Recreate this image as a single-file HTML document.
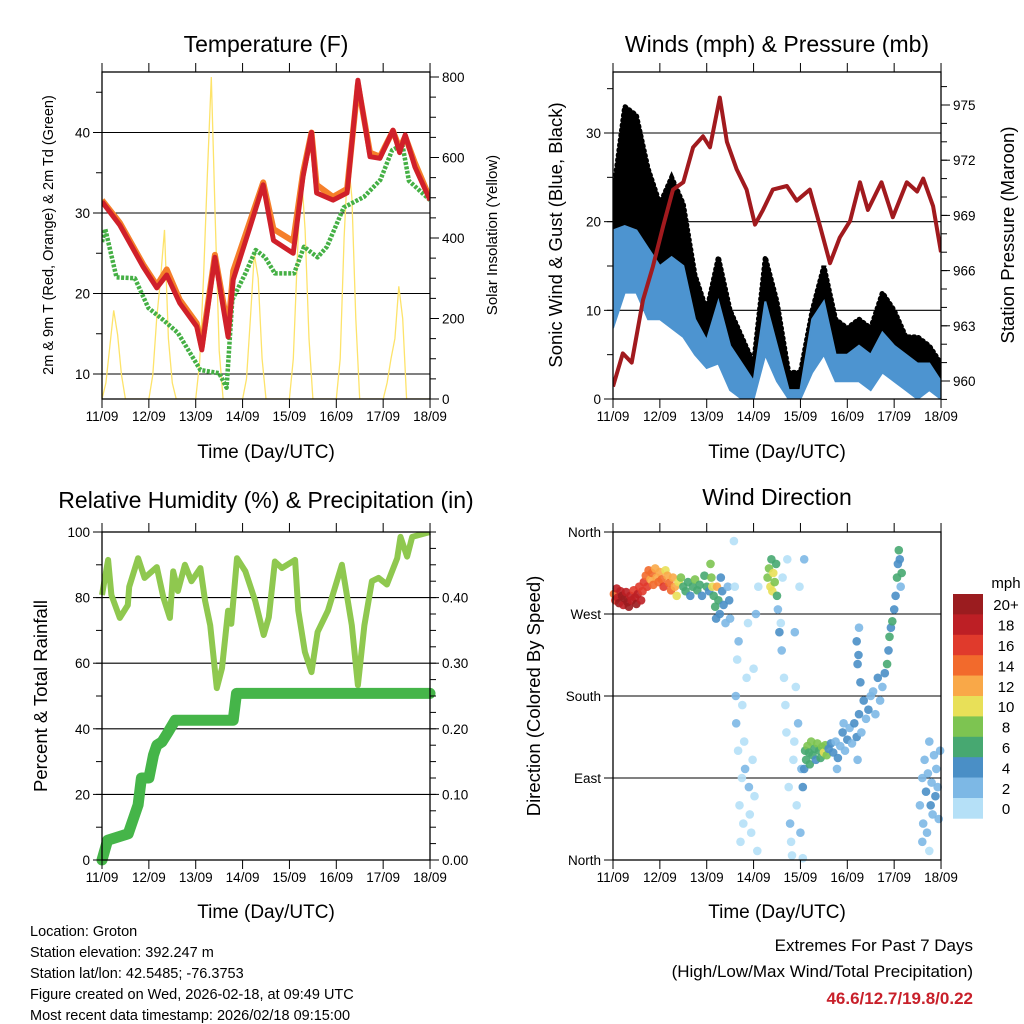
<!DOCTYPE html>
<html><head><meta charset="utf-8">
<style>
html,body{margin:0;padding:0;background:#fff;}
svg{display:block;font-family:"Liberation Sans",Arial,sans-serif;}
</style></head>
<body>
<svg id="chart" width="1024" height="1024" viewBox="0 0 1024 1024" xmlns="http://www.w3.org/2000/svg">
<rect x="0" y="0" width="1024" height="1024" fill="#fff"/>
<g id="layer"></g>
<text x="266" y="52" font-size="23" text-anchor="middle">Temperature (F)</text>
<text x="777" y="52" font-size="23" text-anchor="middle">Winds (mph) &amp; Pressure (mb)</text>
<text x="266" y="508" font-size="23" text-anchor="middle">Relative Humidity (%) &amp; Precipitation (in)</text>
<text x="777" y="505" font-size="23" text-anchor="middle">Wind Direction</text>
<text x="266" y="458" font-size="19" text-anchor="middle">Time (Day/UTC)</text>
<text x="777" y="458" font-size="19" text-anchor="middle">Time (Day/UTC)</text>
<text x="266" y="918" font-size="19" text-anchor="middle">Time (Day/UTC)</text>
<text x="777" y="918" font-size="19" text-anchor="middle">Time (Day/UTC)</text>
<text transform="translate(53,235) rotate(-90)" font-size="14.5" text-anchor="middle">2m &amp; 9m T (Red, Orange) &amp; 2m Td (Green)</text>
<text transform="translate(497,235) rotate(-90)" font-size="15" text-anchor="middle">Solar Insolation (Yellow)</text>
<text transform="translate(562,235) rotate(-90)" font-size="18.5" text-anchor="middle">Sonic Wind &amp; Gust (Blue, Black)</text>
<text transform="translate(1014,235) rotate(-90)" font-size="18.5" text-anchor="middle">Station Pressure (Maroon)</text>
<text transform="translate(47,696) rotate(-90)" font-size="18.5" text-anchor="middle">Percent &amp; Total Rainfall</text>
<text transform="translate(540,696) rotate(-90)" font-size="18.5" text-anchor="middle">Direction (Colored By Speed)</text>
<g font-size="14.5">
<text x="30" y="936">Location: Groton</text>
<text x="30" y="957">Station elevation: 392.247 m</text>
<text x="30" y="978">Station lat/lon: 42.5485; -76.3753</text>
<text x="30" y="999">Figure created on Wed, 2026-02-18, at 09:49 UTC</text>
<text x="30" y="1020">Most recent data timestamp: 2026/02/18 09:15:00</text>
</g>
<g text-anchor="end">
<text x="973" y="951" font-size="17">Extremes For Past 7 Days</text>
<text x="973" y="977" font-size="17">(High/Low/Max Wind/Total Precipitation)</text>
<text x="973" y="1004" font-size="17" font-weight="bold" fill="#c8202a">46.6/12.7/19.8/0.22</text>
</g>
<text x="1006" y="588" font-size="15" text-anchor="middle">mph</text>
</svg>
<script>
// ---------- data ----------
const dayLabels=["11/09","12/09","13/09","14/09","15/09","16/09","17/09","18/09"];
const tempTimes=[0,0.38,0.88,1.17,1.38,1.66,2.02,2.13,2.41,2.69,2.8,3.16,3.44,3.66,4.08,4.29,4.47,4.58,4.93,5.23,5.46,5.72,5.93,6.21,6.35,6.47,6.68,7];
const temp2m=[31.4,28.5,23.3,20.7,22.3,18.8,15.9,13.0,24.5,14.6,21.7,28.3,33.5,26.6,25,34.5,40,32.5,31.6,32.5,46.5,37,36.8,40.3,37.5,39.7,35.7,31.6];
const temp9m=[31.6,28.8,23.6,21,23,19.2,16.3,13.4,24.8,15.5,22.8,29,33.8,28,26.5,35,40,33.5,32,33,46,37.5,37,40.2,38,39.5,36.2,31.8];
const dewTimes=[0,0.07,0.31,0.7,0.99,1.31,1.62,2.1,2.5,2.66,2.78,3.06,3.28,3.48,3.69,4.1,4.31,4.6,4.8,5.16,5.59,5.94,6.19,6.41,6.55,7];
const dewVals=[26.4,28,22,21.9,18.2,16.7,15.1,10.5,10.1,8.3,19.2,22.5,25.4,24.5,22.5,22.5,25.8,24.5,25.8,30.7,32,34.1,37.8,38.5,34,31.6];
const solarStepHours=2;
const solarVals=[0,40,130,220,160,60,0,0,0,0,0,0,
 0,60,200,300,420,150,40,0,0,0,0,0,
 0,90,300,560,800,450,120,0,0,0,0,0,
 0,50,200,360,300,100,0,0,0,0,0,0,
 0,100,350,570,420,150,0,0,0,0,0,0,
 0,100,400,600,500,200,0,0,0,0,0,0,
 0,40,100,150,280,200,0,0,0,0,0,0,0];
const windTimes=[0,0.25,0.5,0.75,1,1.25,1.5,1.75,2,2.25,2.5,2.75,3,3.25,3.5,3.75,4,4.25,4.5,4.75,5,5.25,5.5,5.75,6,6.25,6.5,6.75,7];
const windLo=[8,12,12,9,9,8,7,5,3.5,4,1,0,0,5,2,0,0,3,5,2,2,2,1,3,2,1,0,1,0];
const windHi=[19,19.5,19,17,15,16,15,9,6.6,11,6,4,2,11,6,1,1,9,11,5,5,6,5,7.5,6,5,4,4,2];
const gustHi=[23,33,32,26,22,25,22,14,10,16,10,7,4,16,11,3,3,10,15,9,8,9,8,12,10,7,7,6,4];
const presTimes=[0,0.21,0.4,0.64,0.85,1.07,1.28,1.5,1.71,1.92,2.07,2.28,2.43,2.64,2.85,3.03,3.2,3.41,3.71,3.92,4.2,4.42,4.63,4.84,5.06,5.27,5.44,5.73,5.97,6.27,6.49,6.62,6.83,7];
const presVals=[959.7,961.5,961,964.4,966.2,968.4,970.4,970.8,972.7,973.3,972.7,975.4,973,971.5,970.4,968.5,969.3,970.4,970.6,969.8,970.4,968.4,966.4,967.8,968.7,970.8,969.3,970.8,968.9,970.8,970.3,971,969.5,967];
const rhTimes=[0,0.13,0.2,0.38,0.55,0.58,0.77,0.91,1.17,1.31,1.45,1.52,1.62,1.77,1.91,2.1,2.2,2.31,2.45,2.56,2.69,2.76,2.88,3.06,3.27,3.45,3.56,3.69,3.84,4.12,4.19,4.33,4.47,4.6,4.82,5.12,5.33,5.46,5.6,5.76,5.9,6.08,6.3,6.37,6.51,6.62,7];
const rhVals=[80.8,91.5,80.8,73.8,77.7,83.3,92,86,89.3,80,73.8,88,82,90,85,89,79,71.6,52.4,58.5,76,72,92,88,79,68.6,74,91,89,91.5,76,63.4,57.3,69.5,76,90,71.6,53.3,71.6,85,86,84,92,98.5,92.5,98.5,100];
const precipTimes=[0,0.12,0.56,0.77,0.84,1.0,1.1,1.17,1.28,1.41,1.56,2.8,2.87,7];
const precipVals=[0,0.03,0.04,0.084,0.125,0.125,0.16,0.175,0.18,0.195,0.213,0.213,0.254,0.254];
const speedBinLabels=["0","2","4","6","8","10","12","14","16","18","20+"];
const speedBinColors=["#b5e0f7","#7db8e5","#4a8fc6","#47a871","#7dc451","#e8e058","#f9a848","#f26a2c","#e03a2c","#bd1f25","#9b1c1f"];
const dirObs=[
[0.02,292,14],[0.05,285,16],[0.08,298,18],[0.1,288,19],[0.13,282,20],[0.16,295,18],[0.19,290,20],[0.22,280,19],[0.25,287,21],[0.28,294,18],[0.31,283,20],[0.34,278,21],[0.37,290,18],[0.4,285,19],[0.44,296,17],[0.47,288,18],[0.5,281,20],[0.53,292,19],[0.56,300,17],[0.6,285,18],[0.63,295,16],
[0.66,305,17],[0.7,312,15],[0.73,300,16],[0.76,318,14],[0.8,308,13],[0.83,315,14],[0.86,302,15],[0.9,320,12],[0.93,310,13],[0.97,305,14],[1.0,316,12],[1.04,308,15],[1.08,300,16],[1.12,318,11],[1.16,312,13],[1.2,304,14],[1.24,296,15],[1.28,310,13],[1.32,300,12],[1.36,290,11],[1.4,305,10],
[1.45,310,8],[1.5,300,7],[1.55,295,6],[1.6,305,7],[1.65,290,5],[1.7,300,7],[1.75,308,8],[1.8,296,6],[1.85,302,7],[1.9,290,5],[1.95,312,7],[2.0,300,6],[2.05,295,4],
[2.08,325,8],[2.1,310,9],[2.12,300,10],[2.15,290,7],[2.18,278,6],[2.2,265,5],[2.22,300,12],[2.25,285,6],[2.28,270,4],[2.3,310,4],[2.33,295,5],[2.36,280,4],[2.4,260,3],[2.45,300,3],[2.48,285,4],[2.5,265,3],
[2.58,350,1],[2.6,300,1],[2.62,180,2],[2.63,150,2],[2.65,220,1],[2.67,120,1],[2.7,60,0],[2.72,20,1],[2.75,90,1],[2.78,40,0],[2.8,130,1],[2.82,100,2],[2.85,200,1],[2.88,260,1],[2.9,80,2],[2.92,50,1],[2.95,30,1],[2.98,110,0],[3.0,210,1],[3.02,70,1],[3.05,270,2],[3.08,10,0],[3.1,300,1],[2.68,240,2],[2.76,170,1],
[3.3,310,8],[3.33,320,9],[3.36,300,10],[3.38,330,7],[3.4,295,11],[3.42,315,10],[3.45,305,8],[3.48,325,6],[3.5,290,7],[3.52,275,3],[3.55,250,4],
[3.58,260,1],[3.6,230,2],[3.65,200,1],[3.68,170,0],[3.7,140,1],[3.72,330,1],[3.75,80,1],[3.78,40,2],[3.8,20,0],[3.82,5,0],[3.85,110,1],[3.88,250,2],[3.9,190,1],[3.92,60,1],[3.95,150,3],[3.98,300,1],[4.0,30,2],[4.02,100,3],[4.05,2,0],[4.08,330,3],[3.62,310,1],[3.87,130,1],
[4.05,80,4],[4.08,100,4],[4.1,120,6],[4.12,110,7],[4.15,125,8],[4.18,118,6],[4.2,105,7],[4.23,130,8],[4.26,115,6],[4.3,122,7],[4.33,110,5],[4.36,128,8],[4.4,120,6],[4.43,112,7],[4.46,124,8],[4.5,118,10],[4.53,126,9],[4.56,115,8],[4.6,122,4],[4.65,128,4],
[4.7,118,4],[4.75,130,3],[4.8,112,4],[4.85,125,3],[4.9,140,4],[4.95,120,3],[5.0,132,4],[5.05,145,3],[5.1,128,2],[5.15,150,4],[5.2,135,4],[5.25,160,4],[5.3,140,3],[5.35,175,4],[5.4,155,2],[5.45,165,4],[5.5,180,3],[4.78,100,2],[4.92,150,2],[5.22,110,2],
[5.2,240,4],[5.22,215,4],[5.25,255,3],[5.28,195,4],[5.24,225,5],
[5.55,185,3],[5.6,160,3],[5.65,200,4],[5.7,175,3],[5.75,190,2],[5.8,205,4],[5.85,215,6],[5.88,230,5],[5.9,245,6],[5.93,255,5],[5.96,262,6],[6.0,275,4],[6.03,290,4],[6.06,310,6],[6.08,325,5],[6.1,340,6],[6.12,330,4],[6.14,300,3],[6.16,315,6],
[6.55,60,2],[6.6,90,3],[6.62,40,2],[6.65,110,2],[6.68,75,4],[6.7,30,2],[6.72,95,3],[6.75,130,2],[6.78,60,4],[6.8,85,3],[6.82,50,2],[6.85,115,3],[6.88,70,4],[6.9,100,2],[6.93,80,3],[6.95,45,2],[6.98,120,3],[6.6,20,2],[6.75,10,1]
];

// ---------- helpers ----------
const NS="http://www.w3.org/2000/svg";
const layer=document.getElementById('layer');
function mk(tag,attrs,parent){const e=document.createElementNS(NS,tag);for(const k in attrs)e.setAttribute(k,attrs[k]);(parent||layer).appendChild(e);return e;}
const DAYPX=46.86;
function xS(x0){return d=>x0+d*DAYPX;}
function lin(v0,p0,v1,p1){return v=>p0+(v-v0)*(p1-p0)/(v1-v0);}
function pathFrom(ts,vs,fx,fy){return ts.map((t,i)=>(i?'L':'M')+fx(t).toFixed(1)+','+fy(vs[i]).toFixed(1)).join('');}

function frame(x0,y0,x1,y1,name){
  const g=mk('g',{});
  
  
  for(let i=0;i<=7;i++){
    const x=x0+i*DAYPX;
    mk('line',{x1:x,y1:y0,x2:x,y2:y0-9,stroke:'#000','stroke-width':1},g);
    mk('line',{x1:x,y1:y1,x2:x,y2:y1+9,stroke:'#000','stroke-width':1},g);
    const t=mk('text',{x:x,y:y1+22,'font-size':13.5,'text-anchor':'middle'},g);
    
    
    t.textContent=dayLabels[i];
  }
  mk('rect',{x:x0,y:y0,width:x1-x0,height:y1-y0,fill:'none',stroke:'#000','stroke-width':1.3},g);
  return g;
}
function yAxis(x0,x1,y0,y1,fy,majors,labels,minors,side,fs,name){
  const g=mk('g',{});
  
  
  minors.forEach(v=>{const y=fy(v);if(y<y0-0.5||y>y1+0.5)return;
    if(side==='L')mk('line',{x1:x0,y1:y,x2:x0-6,y2:y,stroke:'#000'},g);
    else mk('line',{x1:x1,y1:y,x2:x1+6,y2:y,stroke:'#000'},g);});
  majors.forEach((v,i)=>{const y=fy(v);
    if(side==='L'){mk('line',{x1:x0,y1:y,x2:x0-9,y2:y,stroke:'#000'},g);
      const t=mk('text',{x:x0-12,y:y+5,'font-size':fs,'text-anchor':'end'},g);t.textContent=labels[i];}
    else{mk('line',{x1:x1,y1:y,x2:x1+9,y2:y,stroke:'#000'},g);
      const t=mk('text',{x:x1+12,y:y+5,'font-size':fs,'text-anchor':'start'},g);t.textContent=labels[i];}
  });
}
function grid(x0,x1,ys,name){const g=mk('g',{});
  ys.forEach(y=>mk('line',{x1:x0,y1:y,x2:x1,y2:y,stroke:'#000','stroke-width':1.1},g));}
function range(a,b,s){const r=[];for(let v=a;v<=b+1e-9;v+=s)r.push(+v.toFixed(4));return r;}

// ---------- Panel 1 : temperature ----------
{
 const x0=102,x1=430,y0=72,y1=399,fx=xS(x0);
 const fT=lin(30,213,40,132.5), fW=lin(0,399,800,77);
 const clip=mk('clipPath',{id:'c1'});mk('rect',{x:x0,y:y0,width:x1-x0,height:y1-y0},clip);
 grid(x0,x1,[10,20,30,40].map(fT),'temp-gridlines');
 const solarT=solarVals.map((v,i)=>i*solarStepHours/24);
 const s=mk('path',{d:pathFrom(solarT,solarVals,fx,fW),fill:'none',stroke:'#fde36a','stroke-width':1.3,'clip-path':'url(#c1)'});
 
 const dw=mk('path',{d:pathFrom(dewTimes,dewVals,fx,fT),fill:'none',stroke:'#45b045','stroke-width':4.5,'stroke-dasharray':'3 1.5','stroke-linejoin':'round','clip-path':'url(#c1)'});
 
 const o=mk('path',{d:pathFrom(tempTimes,temp9m,fx,fT),fill:'none',stroke:'#f57f2a','stroke-width':6,'stroke-linejoin':'round','clip-path':'url(#c1)'});
 
 const r=mk('path',{d:pathFrom(tempTimes,temp2m,fx,fT),fill:'none',stroke:'#d0202a','stroke-width':5,'stroke-linejoin':'round','clip-path':'url(#c1)'});
 
 frame(x0,y0,x1,y1,'temperature');
 yAxis(x0,x1,y0,y1,fT,[10,20,30,40],['10','20','30','40'],range(5,50,5),'L',13.5,'temp-y-axis');
 yAxis(x0,x1,y0,y1,fW,[0,200,400,600,800],['0','200','400','600','800'],range(0,800,50),'R',13.5,'solar-y-axis');
}
// ---------- Panel 2 : winds ----------
{
 const x0=613,x1=941,y0=72,y1=399,fx=xS(x0);
 const fV=lin(0,399,30,133), fP=lin(960,381,975,105);
 const clip=mk('clipPath',{id:'c2'});mk('rect',{x:x0,y:y0,width:x1-x0,height:y1-y0},clip);
 grid(x0,x1,[10,20,30].map(fV),'wind-gridlines');
 const gp=pathFrom(windTimes,gustHi,fx,fV)+pathFrom(windTimes.slice().reverse(),windLo.slice().reverse(),fx,fV).replace('M','L')+'Z';
 const ga=mk('path',{d:gp,fill:'#000','clip-path':'url(#c2)'});
 
 const gl=mk('path',{d:pathFrom(windTimes,gustHi,fx,fV),fill:'none',stroke:'#000','stroke-width':5,'stroke-dasharray':'1 4','stroke-linecap':'round','clip-path':'url(#c2)'});
 
 const wp=pathFrom(windTimes,windHi,fx,fV)+pathFrom(windTimes.slice().reverse(),windLo.slice().reverse(),fx,fV).replace('M','L')+'Z';
 const wa=mk('path',{d:wp,fill:'#4d94d0',stroke:'#4d94d0','stroke-width':2,'clip-path':'url(#c2)'});
 
 const p=mk('path',{d:pathFrom(presTimes,presVals,fx,fP),fill:'none',stroke:'#a11a1e','stroke-width':4,'stroke-linejoin':'round','clip-path':'url(#c2)'});
 
 frame(x0,y0,x1,y1,'winds');
 yAxis(x0,x1,y0,y1,fV,[0,10,20,30],['0','10','20','30'],range(0,35,5),'L',13.5,'wind-y-axis');
 yAxis(x0,x1,y0,y1,fP,[960,963,966,969,972,975],['960','963','966','969','972','975'],range(959,977,1),'R',13.5,'pressure-y-axis');
}
// ---------- Panel 3 : RH ----------
{
 const x0=102,x1=430,y0=532,y1=860,fx=xS(x0);
 const fR=lin(0,860,100,532), fI=lin(0,860,0.4,597.6);
 const clip=mk('clipPath',{id:'c3'});mk('rect',{x:x0-6,y:y0,width:x1-x0+12,height:y1-y0+6},clip);
 grid(x0,x1,[20,40,60,80].map(fR),'rh-gridlines');
 const rh=mk('path',{d:pathFrom(rhTimes,rhVals,fx,fR),fill:'none',stroke:'#8fc84f','stroke-width':6,'stroke-linejoin':'round','clip-path':'url(#c3)'});
 
 const pr=mk('path',{d:pathFrom(precipTimes,precipVals,fx,fI),fill:'none',stroke:'#45b549','stroke-width':11,'stroke-linejoin':'round','stroke-linecap':'round','clip-path':'url(#c3)'});
 
 frame(x0,y0,x1,y1,'humidity');
 yAxis(x0,x1,y0,y1,fR,[0,20,40,60,80,100],['0','20','40','60','80','100'],range(0,100,10),'L',13.5,'rh-y-axis');
 yAxis(x0,x1,y0,y1,fI,[0,0.1,0.2,0.3,0.4],['0.00','0.10','0.20','0.30','0.40'],range(0,0.5,0.025),'R',13.5,'precip-y-axis');
}
// ---------- Panel 4 : wind direction ----------
{
 const x0=613,x1=941,y0=532,y1=860,fx=xS(x0);
 const fD=lin(0,860,360,532);
 grid(x0,x1,[90,180,270].map(fD),'dir-gridlines');
 const g=mk('g',{});
 dirObs.forEach(o=>{
   const bin=Math.min(10,Math.floor(o[2]/2));
   const c=mk('circle',{cx:fx(o[0]).toFixed(1),cy:fD(o[1]).toFixed(1),r:4.3,fill:speedBinColors[bin],'fill-opacity':0.9},g);
   
   
 });
 frame(x0,y0,x1,y1,'direction');
 yAxis(x0,x1,y0,y1,fD,[0,90,180,270,360],['North','East','South','West','North'],[],'L',13.5,'dir-y-axis');
 const cb=mk('g',{});
 const top=594,h=20.4;
 speedBinColors.slice().reverse().forEach((c,i)=>{
   const rr=mk('rect',{x:953,y:top+i*h,width:30,height:h+0.3,fill:c},cb);
   
   
   const t=mk('text',{x:1006,y:top+i*h+h/2+6,'font-size':15,'text-anchor':'middle'},cb);
   t.textContent=speedBinLabels[10-i];
 });
}
</script>
</body></html>
